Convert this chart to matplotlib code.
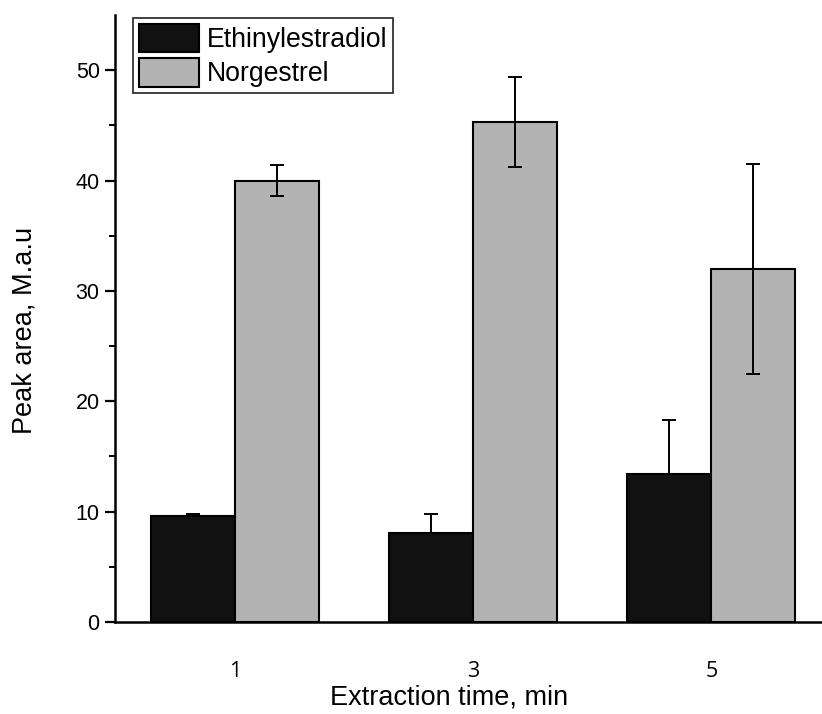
import matplotlib.pyplot as plt
import numpy as np

# extraction time (min) and peak areas (M.a.u)
times = [1, 3, 5]
time_labels = ['1', '3', '5']
ethinyl = [9.6, 8.1, 13.4]
ethinyl_err = [0.2, 1.7, 4.9]
norgestrel = [40.0, 45.3, 32.0]
norgestrel_err = [1.4, 4.05, 9.5]

plt.rcParams['font.family'] = ['Liberation Sans', 'DejaVu Sans']

fig = plt.figure(figsize=(8.22, 7.14), dpi=100)
ax = fig.add_axes([0.1399, 0.1289, 0.8601, 0.850])

x = np.array(times, dtype=float)
w = 0.705
err_kw = dict(ecolor='black', elinewidth=1.4, capsize=5, capthick=1.4)

# only the upper whisker shows on the dark bars
ax.bar(x - w / 2, ethinyl, w, yerr=[np.zeros(len(ethinyl)), ethinyl_err],
       color='#111111', edgecolor='black', linewidth=1.5,
       label='Ethinylestradiol', error_kw=err_kw, zorder=2)
ax.bar(x + w / 2, norgestrel, w, yerr=norgestrel_err, color='#b3b3b3',
       edgecolor='black', linewidth=1.5, label='Norgestrel',
       error_kw=err_kw, zorder=2)

ax.set_xlim(-0.01, 5.93)
ax.set_ylim(0, 55)
ax.set_yticks(np.arange(0, 51, 10))
ax.set_yticks(np.arange(5, 55, 10), minor=True)
ax.set_xticks(x)
ax.set_xticklabels(time_labels, family='Open Sans', fontsize=15.5)

ax.spines['top'].set_visible(False)
ax.spines['right'].set_visible(False)
ax.spines['left'].set_linewidth(1.8)
ax.spines['bottom'].set_linewidth(1.8)

ax.tick_params(axis='y', which='major', direction='out', length=7, width=1.6,
               labelsize=15.5, pad=4)
ax.tick_params(axis='y', which='minor', direction='out', length=4, width=1.4)
ax.tick_params(axis='x', which='both', length=0, pad=28)

ax.set_xlabel('Extraction time, min', fontsize=19.5)
ax.set_ylabel('Peak area, M.a.u', fontsize=19.5)
ax.xaxis.set_label_coords(0.472, -0.103)
ax.yaxis.set_label_coords(-0.109, 0.481)

leg = ax.legend(loc='upper left', bbox_to_anchor=(0.025, 0.995), fontsize=19.2,
                frameon=True, fancybox=False, handlelength=2.25,
                handleheight=1.25, handletextpad=0.3, borderpad=0.22,
                labelspacing=0.2, borderaxespad=0)
leg.get_frame().set_edgecolor('black')
leg.get_frame().set_linewidth(1.3)

fig.savefig('out.png', dpi=100)
